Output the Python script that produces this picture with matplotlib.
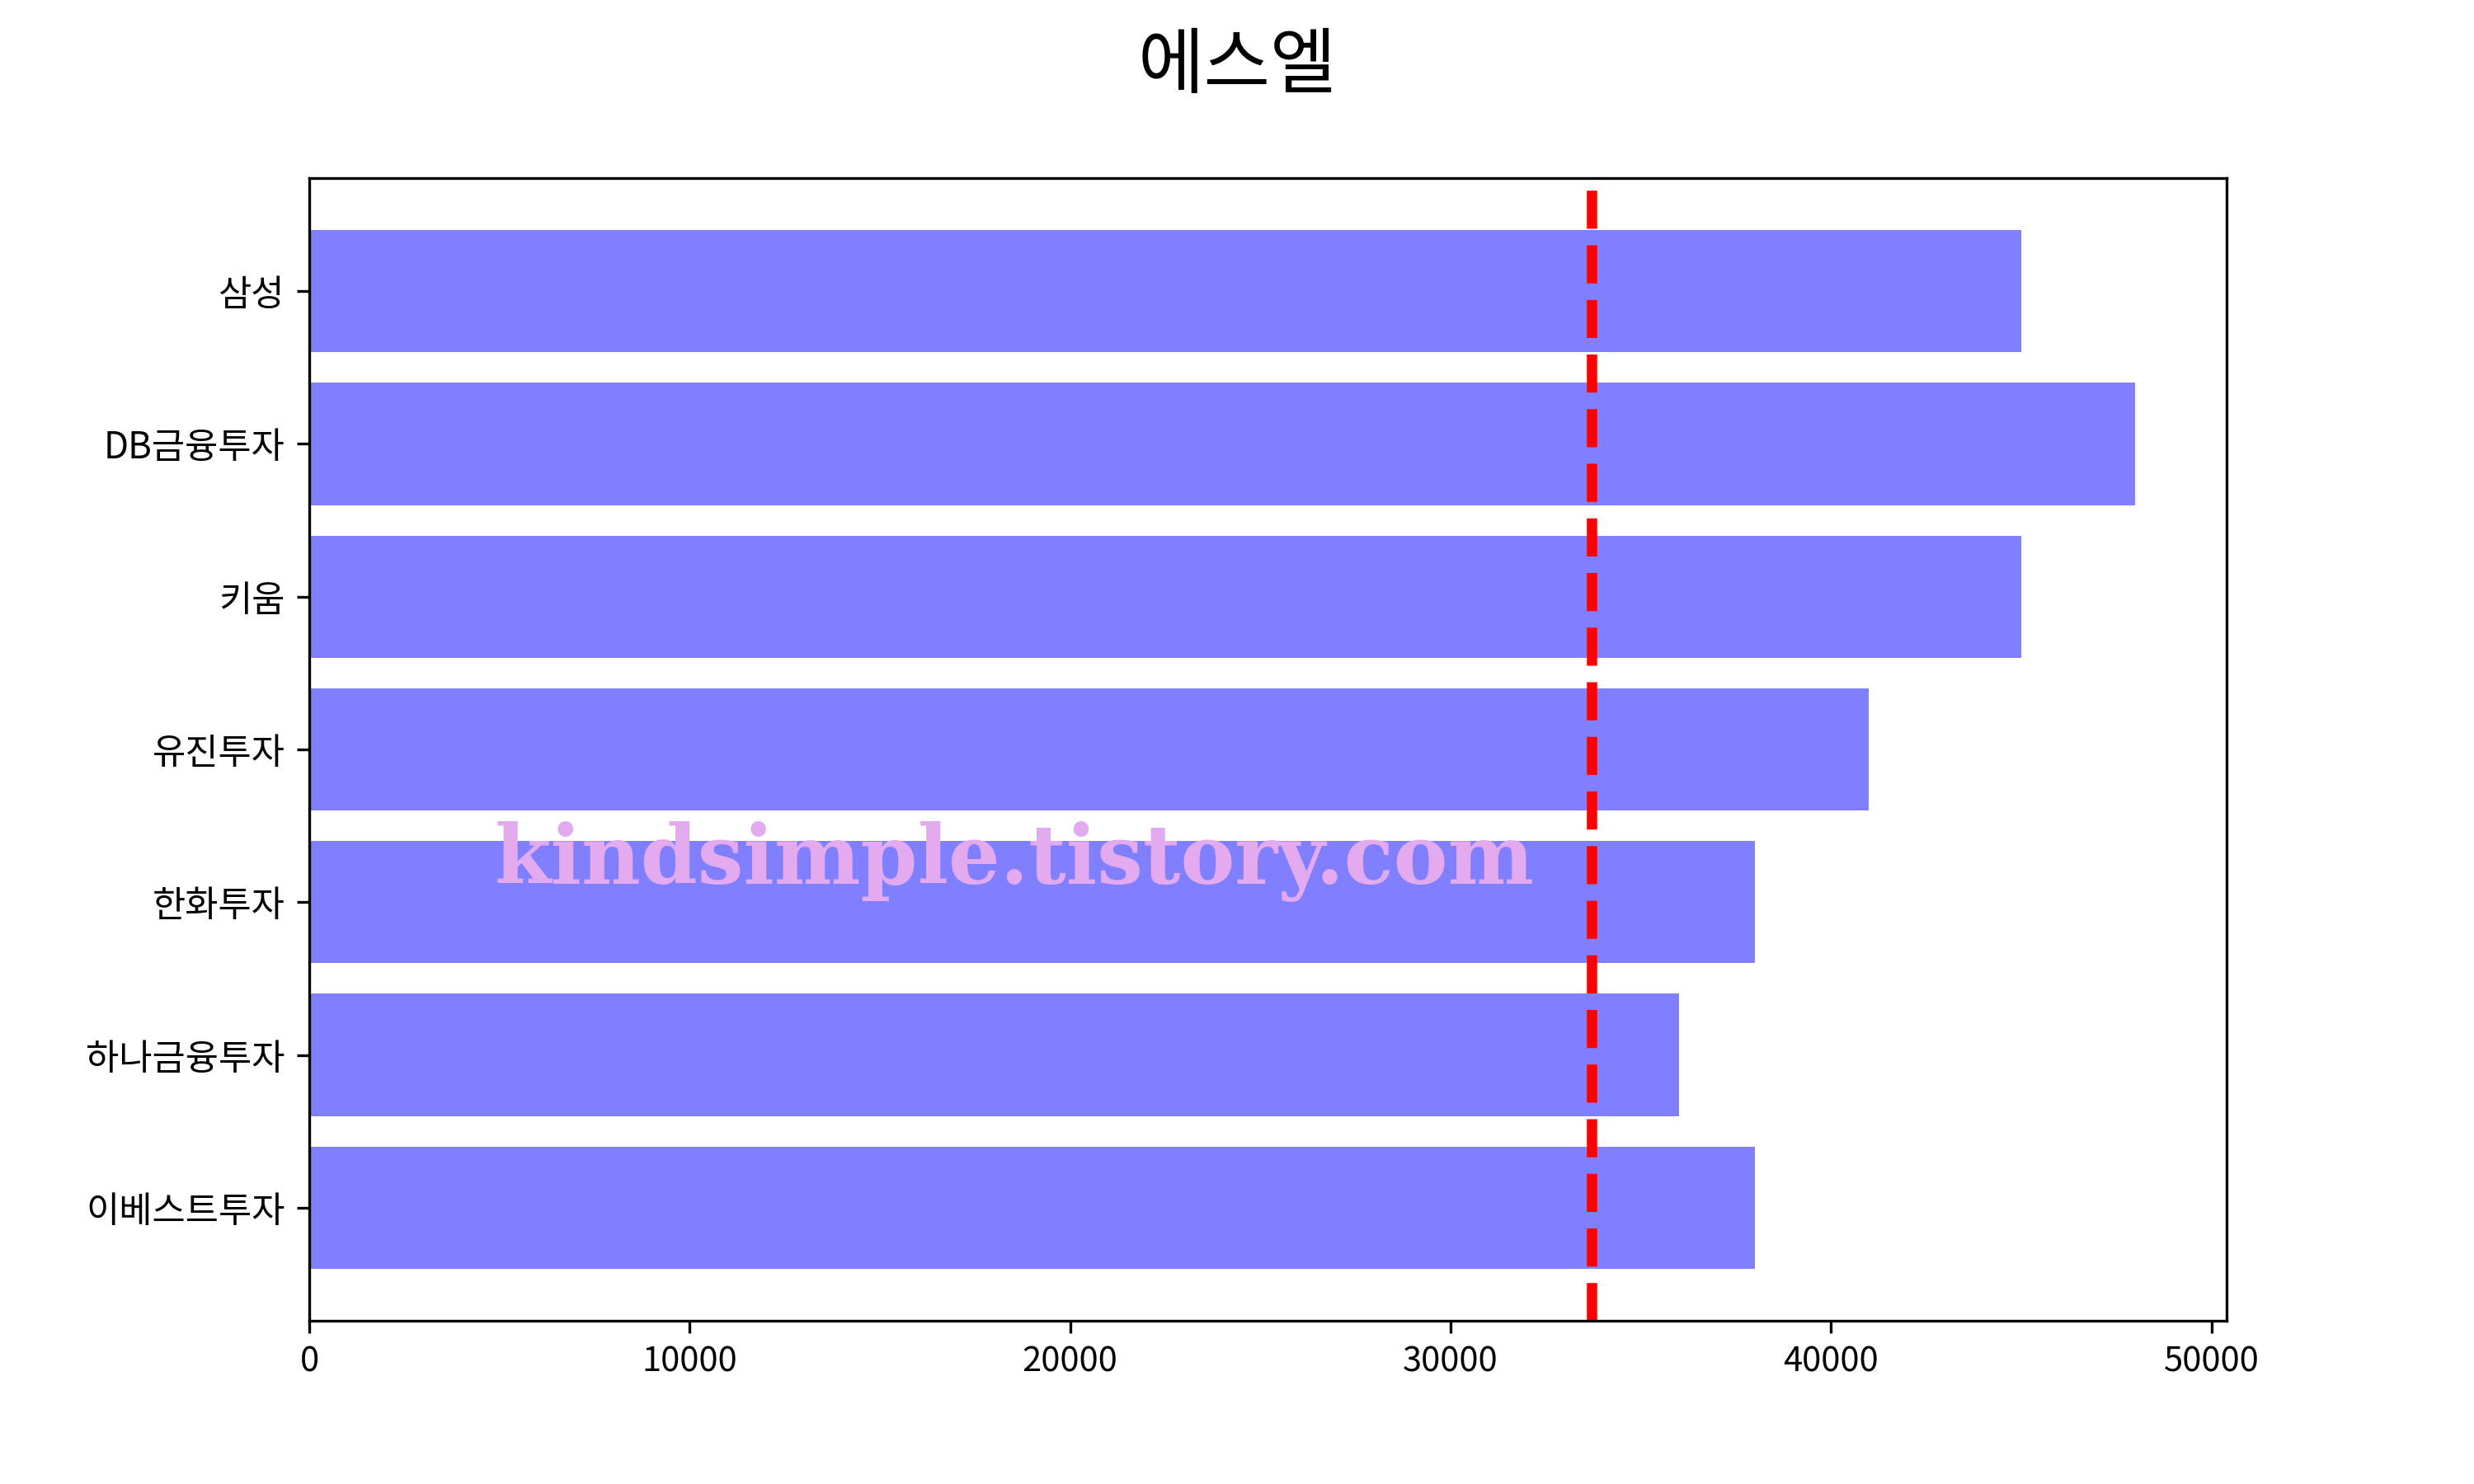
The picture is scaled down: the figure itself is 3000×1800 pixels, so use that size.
import matplotlib.pyplot as plt
import numpy as np

plt.rcParams['font.family'] = ['Noto Sans CJK KR', 'DejaVu Sans']
plt.rcParams['axes.unicode_minus'] = False

# 증권사별 목표주가 (아래 -> 위 순서)
brokers = ["이베스트투자", "하나금융투자", "한화투자", "유진투자", "키움", "DB금융투자", "삼성"]
target_prices = [38000, 36000, 38000, 41000, 45000, 48000, 45000]
current_price = 33700
title = "에스엘"
watermark = "kindsimple.tistory.com"

fig = plt.figure(figsize=(10, 6), dpi=300)
ax = fig.add_subplot(111)

ax.barh(brokers, target_prices, color="blue", alpha=0.5)
ax.axvline(current_price, color="red", linestyle="--", linewidth=3)

ax.tick_params(axis="y", labelsize=10.5)
fig.suptitle(title, fontsize=21)

fig.text(0.2, 0.4044, watermark, fontsize=23.7, fontweight="bold",
         family=["DejaVu Serif"], color="#E3AAF0", va="baseline")

fig.savefig("out.png")
